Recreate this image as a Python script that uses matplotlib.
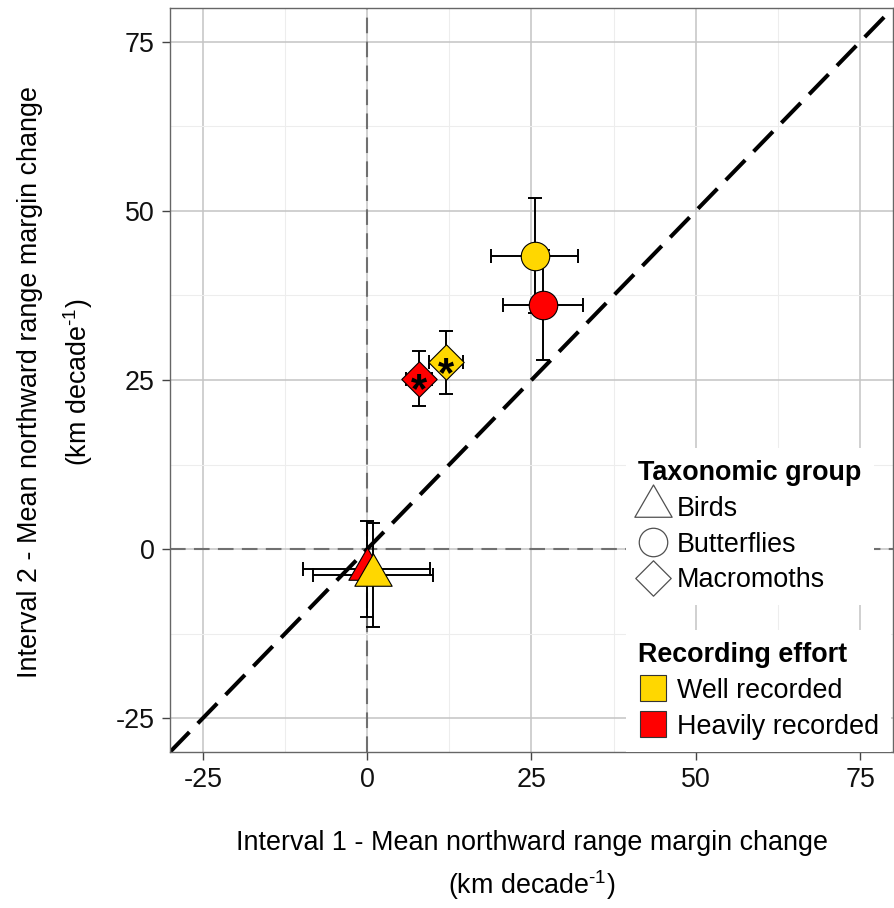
import matplotlib
matplotlib.use("Agg")
import matplotlib.pyplot as plt
from matplotlib.path import Path
from matplotlib.lines import Line2D
from matplotlib.ticker import MultipleLocator

plt.rcParams["font.family"] = ["Liberation Sans", "DejaVu Sans"]
plt.rcParams["mathtext.fontset"] = "custom"
plt.rcParams["mathtext.rm"] = "Liberation Sans"
plt.rcParams["mathtext.it"] = "Liberation Sans:italic"
plt.rcParams["mathtext.bf"] = "Liberation Sans:bold"
plt.rcParams["axes.unicode_minus"] = False

# Mean northward range margin change (km per decade) with error half-widths
group = ["Birds", "Birds", "Butterflies", "Butterflies", "Macromoths", "Macromoths"]
effort = ["Heavily recorded", "Well recorded", "Heavily recorded", "Well recorded",
          "Heavily recorded", "Well recorded"]
interval1 = [-0.1, 0.9, 26.8, 25.5, 7.9, 12.0]
interval1_err = [9.6, 9.15, 6.1, 6.6, 2.0, 2.6]
interval2 = [-2.95, -3.85, 36.1, 43.4, 25.2, 27.6]
interval2_err = [7.1, 7.7, 8.1, 8.5, 4.1, 4.6]
significant = [False, False, False, False, True, True]

group_order = ["Birds", "Butterflies", "Macromoths"]
effort_order = ["Well recorded", "Heavily recorded"]
ticks = [-25, 0, 25, 50, 75]

effort_colors = {"Well recorded": "#FFD700", "Heavily recorded": "#FF0000"}

# centroid-centred triangle and a diamond as custom marker paths
tri = Path([(0, 1), (-0.866, -0.5), (0.866, -0.5), (0, 1)],
           [Path.MOVETO, Path.LINETO, Path.LINETO, Path.CLOSEPOLY])
dia = Path([(0, 1), (1, 0), (0, -1), (-1, 0), (0, 1)],
           [Path.MOVETO, Path.LINETO, Path.LINETO, Path.LINETO, Path.CLOSEPOLY])
group_markers = {"Birds": (tri, 31), "Butterflies": ("o", 20.5), "Macromoths": (dia, 25.5)}

FS = 19.4

fig = plt.figure(figsize=(8.95, 9.08), dpi=100)
ax = fig.add_axes([170 / 895, 1 - 752 / 908, 723 / 895, 744 / 908])

lim = (-30, 80)
ax.set_xlim(*lim)
ax.set_ylim(*lim)
ax.set_xticks(ticks)
ax.set_yticks(ticks)
ax.xaxis.set_minor_locator(MultipleLocator(12.5))
ax.yaxis.set_minor_locator(MultipleLocator(12.5))
ax.tick_params(which="minor", length=0)
ax.tick_params(which="major", length=5.8, width=1.0, color="#444444",
               labelsize=FS, labelcolor="#111111", pad=5)
ax.grid(which="major", color="#C4C4C4", linewidth=1.1, zorder=0)
ax.grid(which="minor", color="#EDEDED", linewidth=0.8, zorder=0)
ax.set_axisbelow(True)
for s in ax.spines.values():
    s.set_color("#666666")
    s.set_linewidth(1.0)

# zero reference lines and 1:1 line
ax.axhline(0, color="#707070", linewidth=1.5, dashes=(7.5, 4), zorder=1)
ax.axvline(0, color="#707070", linewidth=1.5, dashes=(7.5, 4), zorder=1)
ax.plot(lim, lim, color="black", linewidth=2.9, dashes=(6.9, 3.0),
        solid_capstyle="butt", dash_capstyle="butt", zorder=2)

# error bars first, then the points on top
for i in range(len(group)):
    ax.errorbar(interval1[i], interval2[i], xerr=interval1_err[i], yerr=interval2_err[i],
                fmt="none", ecolor="black", elinewidth=1.4, capsize=4.7, capthick=1.4,
                zorder=2.5)

for eff in ["Heavily recorded", "Well recorded"]:
    for i in range(len(group)):
        if effort[i] != eff:
            continue
        m, ms = group_markers[group[i]]
        ax.plot(interval1[i], interval2[i], linestyle="none", marker=m, markersize=ms,
                markerfacecolor=effort_colors[eff], markeredgecolor="black",
                markeredgewidth=0.8, zorder=3)
        if significant[i]:
            fs_star = 30
            ax.annotate("*", xy=(interval1[i], interval2[i]), xytext=(0, -0.57 * fs_star),
                        textcoords="offset points", ha="center", va="baseline",
                        fontsize=fs_star, fontweight="bold", color="black", zorder=4)

# legends
common = dict(loc="upper left", borderaxespad=0, frameon=True, fancybox=False,
              framealpha=1, facecolor="white", edgecolor="none",
              prop={"size": FS}, title_fontproperties={"weight": "bold", "size": FS},
              alignment="left", handlelength=1.12, handletextpad=0.32,
              labelspacing=0.36, borderpad=0.45)

shape_handles = []
for g in group_order:
    m, ms = group_markers[g]
    shape_handles.append(Line2D([], [], linestyle="none", marker=m, markersize=ms,
                                markerfacecolor="white", markeredgecolor="#505050",
                                markeredgewidth=0.9))
leg1 = ax.legend(shape_handles, group_order, title="Taxonomic group",
                 bbox_to_anchor=((626 - 170) / 723, (752 - 448) / 744), **common)
leg1.set_zorder(6)
ax.add_artist(leg1)

effort_handles = [Line2D([], [], linestyle="none", marker="s", markersize=18.7,
                         markerfacecolor=effort_colors[e], markeredgecolor="#333333",
                         markeredgewidth=0.8) for e in effort_order]
leg2 = ax.legend(effort_handles, effort_order, title="Recording effort",
                 bbox_to_anchor=((626 - 170) / 723, (752 - 630) / 744), **common)
leg2.set_zorder(6)

# axis titles
unit_label = r"(km decade$^{\text{-1}}$)"
fig.text(531.5 / 895, 1 - 843 / 908, "Interval 1 - Mean northward range margin change",
         ha="center", va="center", fontsize=FS)
fig.text(531.5 / 895, 1 - 885 / 908, unit_label,
         ha="center", va="center", fontsize=FS)
fig.text(30 / 895, 1 - 382 / 908, "Interval 2 - Mean northward range margin change",
         ha="center", va="center", rotation=90, fontsize=FS)
fig.text(78 / 895, 1 - 382 / 908, unit_label,
         ha="center", va="center", rotation=90, fontsize=FS)

fig.savefig("out.png", dpi=100)
